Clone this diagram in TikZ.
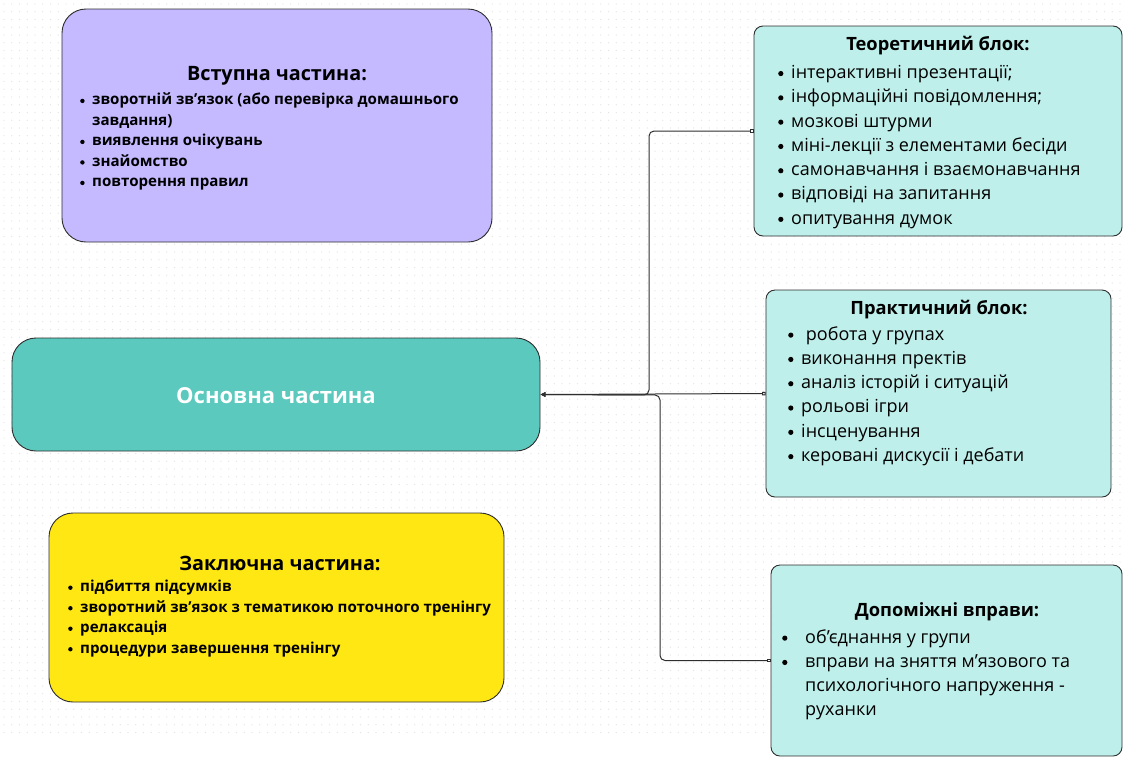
\documentclass[tikz,border=0pt]{standalone}
\usepackage{fontspec}
\setmainfont{Open Sans}
\usetikzlibrary{arrows.meta}
\definecolor{lav}{HTML}{C5B9FF}
\definecolor{maint}{HTML}{5CC9BE}
\definecolor{yel}{HTML}{FFE713}
\definecolor{lteal}{HTML}{BEEFEA}
\definecolor{edge}{HTML}{2E2E2E}
\definecolor{dotc}{HTML}{E2E2E2}
\newcommand{\dotmark}[1]{\tikz[baseline={(0,-0.27em)}]\fill (0,0) circle (#1);}
\newcommand{\bul}{\makebox[13pt][l]{\dotmark{2.6pt}}}
\newcommand{\bulw}{\makebox[23pt][l]{\dotmark{2.6pt}}}
\newcommand{\bulb}{\makebox[12pt][l]{\dotmark{2.2pt}}}
\tikzset{
  bigbox/.style={draw=edge, line width=0.9pt, rounded corners=24pt, inner sep=0pt},
  smallbox/.style={draw=edge, line width=0.9pt, fill=lteal, rounded corners=9pt, inner sep=0pt},
  head/.style={inner sep=0pt, font=\bfseries\fontsize{18.3}{22}\selectfont},
  boldlist/.style={anchor=north west, align=left, inner sep=0pt, font=\bfseries\fontsize{15.1}{20.5}\selectfont},
  reglist/.style={anchor=north west, align=left, inner sep=0pt, font=\fontsize{18}{24.3}\selectfont},
  conn/.style={draw=edge, line width=1pt, rounded corners=5pt, {Square[open,length=3.5pt,width=3.5pt]}-{Triangle[length=5pt,width=4.5pt]}}
}
\begin{document}
\begin{tikzpicture}[x=1pt,y=-1pt]
\useasboundingbox (0,0) rectangle (1123,756);
\fill[white] (0,0) rectangle (1123,756);
\foreach \r in {0,...,94}
  \draw[dotc, line width=1.4pt, line cap=round, dash pattern=on 0pt off 7.75pt] (4,{4+7.75*\r}) -- (1123,{4+7.75*\r});

% boxes
\node[bigbox, fill=lav, minimum width=430pt, minimum height=233pt] (vst) at (277,125.5) {};
\node[bigbox, fill=maint, minimum width=528pt, minimum height=113pt] (main) at (276,394.5) {};
\node[bigbox, fill=yel, minimum width=455pt, minimum height=189pt] (zak) at (276.5,607.5) {};
\node[smallbox, minimum width=368pt, minimum height=210pt] (teor) at (938,131) {};
\node[smallbox, minimum width=345pt, minimum height=207pt] (prak) at (938.5,393.5) {};
\node[smallbox, minimum width=351pt, minimum height=191pt] (dop) at (946.5,660.5) {};

% texts
\node[inner sep=0pt, text=white, font=\bfseries\fontsize{22}{26}\selectfont] (maint) at (276,396) {Основна частина};

\node[head, font=\bfseries\fontsize{19.8}{24}\selectfont] (vsth) at (277,76) {Вступна частина:};
\node[boldlist] (vstl) at (80,93) {\bulb зворотній зв’язок (або перевірка домашнього\\
\hspace*{12pt}завдання)\\
\bulb виявлення очікувань\\
\bulb знайомство\\
\bulb повторення правил};

\node[head, font=\bfseries\fontsize{19.8}{24}\selectfont] (zakh) at (280,563) {Заключна частина:};
\node[boldlist] (zakl) at (68,580) {\bulb підбиття підсумків\\
\bulb зворотний зв’язок з тематикою поточного тренінгу\\
\bulb релаксація\\
\bulb процедури завершення тренінгу};

\node[head] (teorh) at (938,46) {Теоретичний блок:};
\node[reglist] (teorl) at (778,65) {\bul інтерактивні презентації;\\
\bul інформаційні повідомлення;\\
\bul мозкові штурми\\
\bul міні-лекції з елементами бесіди\\
\bul самонавчання і взаємонавчання\\
\bul відповіді на запитання\\
\bul опитування думок};

\node[head] (prakh) at (939,310) {Практичний блок:};
\node[reglist] (prakl) at (788,326) {\bul\ робота у групах\\
\bul виконання пректів\\
\bul аналіз історій і ситуацій\\
\bul рольові ігри\\
\bul інсценування\\
\bul керовані дискусії і дебати};

\node[head] (doph) at (947,612) {Допоміжні вправи:};
\node[reglist] (dopl) at (782,629) {\bulw об’єднання у групи\\
\bulw вправи на зняття м’язового та\\
\hspace*{23pt}психологічного напруження -\\
\hspace*{23pt}руханки};

% connectors
\coordinate (j1) at (649,395);
\coordinate (j2) at (660,395);
\draw[conn] (teor.west) -| (j1) -- (main.east);
\draw[conn] (prak.west) -- (main.east);
\draw[conn] (dop.west) -| (j2) -- (main.east);
\end{tikzpicture}
\end{document}
